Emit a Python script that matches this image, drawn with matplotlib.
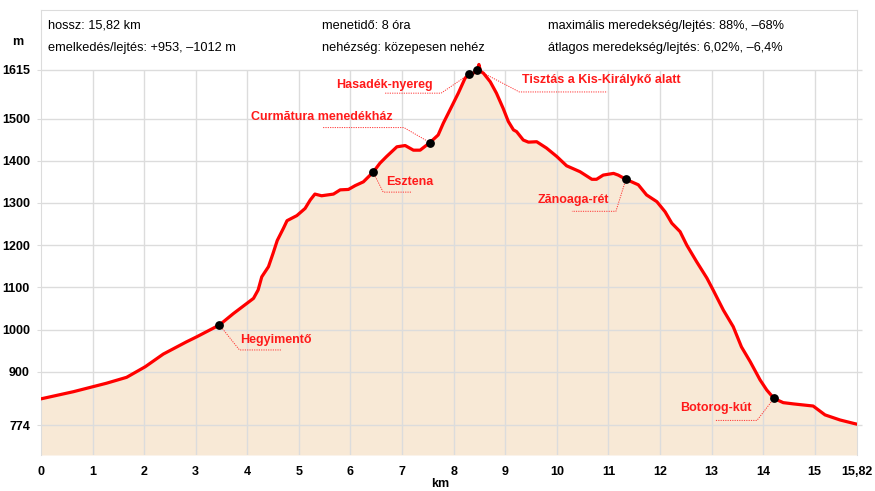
import matplotlib
matplotlib.use('Agg')
import matplotlib.pyplot as plt
from matplotlib.transforms import IdentityTransform
import numpy as np

plt.rcParams['font.family'] = ['Liberation Sans', 'DejaVu Sans']

# elevation profile (km, m)
km = [0.00, 0.63, 1.27, 1.66, 2.02, 2.37, 2.82, 3.02, 3.46, 3.73, 3.99, 4.12, 4.21, 4.28,
      4.41, 4.50, 4.58, 4.70, 4.77, 4.96, 5.12, 5.22, 5.31, 5.44, 5.67, 5.80, 5.96, 6.09,
      6.25, 6.44, 6.57, 6.70, 6.90, 7.06, 7.22, 7.35, 7.54, 7.70, 7.80, 7.96, 8.09, 8.22,
      8.30, 8.38, 8.46, 8.49, 8.52, 8.58, 8.71, 8.83, 8.96, 9.06, 9.16, 9.22, 9.35, 9.45,
      9.61, 9.80, 10.00, 10.19, 10.45, 10.68, 10.77, 10.90, 11.10, 11.19, 11.34, 11.58,
      11.74, 11.94, 12.10, 12.23, 12.39, 12.52, 12.71, 12.91, 13.03, 13.23, 13.42, 13.58,
      13.75, 13.94, 14.07, 14.21, 14.39, 14.59, 14.97, 15.20, 15.49, 15.75, 15.82]
elev = [836, 853, 873, 887, 912, 942, 971, 983, 1011, 1038, 1062, 1074, 1094, 1125,
        1149, 1181, 1211, 1240, 1258, 1270, 1287, 1307, 1321, 1317, 1321, 1331, 1332, 1341,
        1350, 1373, 1394, 1410, 1433, 1436, 1425, 1425, 1443, 1461, 1489, 1528, 1560, 1595,
        1605, 1607, 1615, 1628, 1612, 1607, 1587, 1560, 1524, 1493, 1473, 1469, 1449, 1444,
        1445, 1430, 1410, 1388, 1374, 1356, 1356, 1366, 1370, 1366, 1356, 1343,
        1319, 1303, 1279, 1252, 1232, 1200, 1161, 1122, 1094, 1046, 1007, 959,
        924, 881, 857, 837, 827, 824, 819, 798, 786, 778, 776]

# waypoints
wp_names = ['Hegyimentő', 'Esztena', 'Curmătura menedékház', 'Hasadék-nyereg',
            'Tisztás a Kis-Királykő alatt', 'Zănoaga-rét', 'Botorog-kút']
wp_km = [3.46, 6.44, 7.54, 8.30, 8.46, 11.34, 14.21]
wp_elev = [1011, 1373, 1443, 1605, 1615, 1356, 837]

yticks = [774, 900, 1000, 1100, 1200, 1300, 1400, 1500, 1615]
xticks = list(range(16)) + [15.82]
xticklabels = [str(i) for i in range(16)] + ['15,82']

header = [('hossz: 15,82 km', 'emelkedés/lejtés: +953, –1012 m'),
          ('menetidő: 8 óra', 'nehézség: közepesen nehéz'),
          ('maximális meredekség/lejtés: 88%, –68%', 'átlagos meredekség/lejtés: 6,02%, –6,4%')]

W, H = 875, 491
fig = plt.figure(figsize=(W / 100, H / 100), dpi=100)
ax = fig.add_axes([41 / W, 1 - 455 / H, 816 / W, 445 / H])

ymin, ymax = 703, 1757
ax.set_xlim(0, 15.82)
ax.set_ylim(ymin, ymax)

grid_c = '#dcdcdc'
ax.fill_between(km, elev, ymin, color='#f8e9d6', lw=0, zorder=1)
ax.vlines(range(1, 16), ymin, 1615, color=grid_c, lw=1, zorder=1.5)
ax.hlines(yticks, 0, 15.82 + 0.09, color=grid_c, lw=1, zorder=1.5, clip_on=False)
ax.plot(km, elev, color='#ff0000', lw=2.3, zorder=3, solid_joinstyle='round')
ax.scatter(wp_km, wp_elev, s=28, color='black', zorder=4)

for s in ['top', 'left', 'right']:
    ax.spines[s].set_color(grid_c)
ax.spines['bottom'].set_visible(False)

ax.set_yticks(yticks)
ax.set_yticklabels([str(v) for v in yticks], fontsize=9, fontweight='bold')
ax.set_xticks(xticks)
ax.set_xticklabels(xticklabels, fontsize=9, fontweight='bold')
ax.tick_params(axis='y', length=3, color=grid_c, pad=5)
ax.tick_params(axis='x', length=0, pad=8)

fig.text(18 / W, 1 - 42 / H, 'm', fontsize=9, fontweight='bold', ha='center', va='center')
fig.text(440 / W, 1 - 484 / H, 'km', fontsize=9, fontweight='bold', ha='center', va='center')

for (l1, l2), xp in zip(header, [48, 322, 548]):
    fig.text(xp / W, 1 - 26 / H, l1, fontsize=9.2, ha='left', va='center')
    fig.text(xp / W, 1 - 48 / H, l2, fontsize=9.2, ha='left', va='center')

# leader line layout in pixels relative to the dot: elbow, end of horizontal, text anchor, ha
leaders = [((20, -25), 62, (21, -15), 'left'),
           ((10, -20), 39, (13, -10), 'left'),
           ((-26, 15), -107, (-37, 26), 'right'),
           ((-28, -19), -84, (-36, -11), 'right'),
           ((42, -22), 130, (45, -10), 'left'),
           ((-10, -32), -54, (-17, -21), 'right'),
           ((-17, -22), -59, (-22, -10), 'right')]

fig.canvas.draw()
for name, x, y, (elb, end, tpos, ha) in zip(wp_names, wp_km, wp_elev, leaders):
    px, py = ax.transData.transform((x, y))
    ex, ey = px + elb[0], py + elb[1]
    ax.plot([px, ex, px + end], [py, ey, ey], transform=IdentityTransform(),
            color='#ff3333', lw=0.7, ls=(0, (1.2, 1.2)), zorder=2.5)
    ax.text(px + tpos[0], py + tpos[1], name, transform=IdentityTransform(),
            color='#ff1a1a', fontsize=9, fontweight='bold', ha=ha, va='center', zorder=5)

fig.savefig('out.png', dpi=100)
